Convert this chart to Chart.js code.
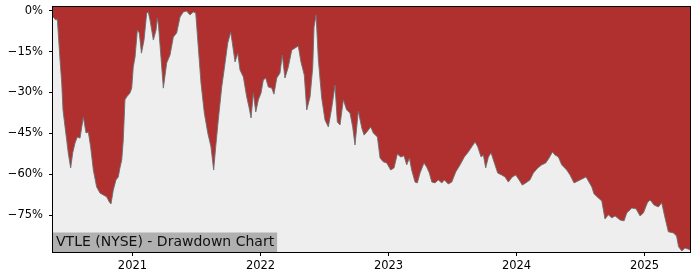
<!DOCTYPE html>
<html>
<head>
<meta charset="utf-8">
<script src="https://cdn.jsdelivr.net/npm/chart.js@4.4.1/dist/chart.umd.min.js"></script>
<style>
  html, body { margin: 0; padding: 0; background: #fff; }
  #wrap { width: 700px; height: 280px; position: relative; }
</style>
</head>
<body>
<div id="wrap"><canvas id="dd-chart"></canvas></div>
<script>
// time in decimal years, drawdown in percent
var years = [2020.379, 2020.402, 2020.413, 2020.420, 2020.434, 2020.447, 2020.457, 2020.473, 2020.486, 2020.498,
  2020.517, 2020.533, 2020.551, 2020.569, 2020.590, 2020.616, 2020.637, 2020.655, 2020.673, 2020.694,
  2020.720, 2020.746, 2020.772, 2020.798, 2020.819, 2020.832, 2020.850, 2020.871, 2020.889, 2020.902,
  2020.916, 2020.928, 2020.941, 2020.955, 2020.980, 2020.994, 2021.006, 2021.020, 2021.038, 2021.053,
  2021.070, 2021.090, 2021.111, 2021.123, 2021.137, 2021.163, 2021.184, 2021.194, 2021.203, 2021.215,
  2021.241, 2021.267, 2021.293, 2021.319, 2021.345, 2021.371, 2021.397, 2021.423, 2021.449, 2021.475,
  2021.494, 2021.514, 2021.535, 2021.561, 2021.588, 2021.613, 2021.634, 2021.650, 2021.670, 2021.697,
  2021.723, 2021.744, 2021.767, 2021.780, 2021.801, 2021.822, 2021.840, 2021.866, 2021.892, 2021.910,
  2021.926, 2021.944, 2021.963, 2021.983, 2022.004, 2022.022, 2022.041, 2022.061, 2022.088, 2022.105,
  2022.127, 2022.152, 2022.170, 2022.191, 2022.217, 2022.244, 2022.270, 2022.295, 2022.316, 2022.342,
  2022.361, 2022.387, 2022.408, 2022.418, 2022.434, 2022.452, 2022.478, 2022.504, 2022.530, 2022.556,
  2022.582, 2022.600, 2022.621, 2022.647, 2022.673, 2022.699, 2022.720, 2022.738, 2022.764, 2022.791,
  2022.809, 2022.830, 2022.861, 2022.881, 2022.913, 2022.934, 2022.959, 2022.986, 2023.017, 2023.043,
  2023.069, 2023.095, 2023.121, 2023.142, 2023.163, 2023.181, 2023.207, 2023.225, 2023.246, 2023.277,
  2023.298, 2023.319, 2023.338, 2023.363, 2023.389, 2023.416, 2023.436, 2023.467, 2023.494, 2023.525,
  2023.559, 2023.592, 2023.623, 2023.650, 2023.676, 2023.697, 2023.723, 2023.741, 2023.759, 2023.780,
  2023.801, 2023.827, 2023.853, 2023.884, 2023.910, 2023.936, 2023.967, 2023.994, 2024.020, 2024.045,
  2024.072, 2024.105, 2024.131, 2024.166, 2024.197, 2024.228, 2024.254, 2024.280, 2024.301, 2024.327,
  2024.353, 2024.392, 2024.418, 2024.449, 2024.496, 2024.543, 2024.588, 2024.605, 2024.639, 2024.666,
  2024.691, 2024.717, 2024.744, 2024.770, 2024.809, 2024.840, 2024.861, 2024.900, 2024.934, 2024.965,
  2024.991, 2025.022, 2025.043, 2025.074, 2025.108, 2025.134, 2025.160, 2025.186, 2025.225, 2025.250,
  2025.266, 2025.291, 2025.316, 2025.355];

var drawdown = [-2.3, -3.5, -3.2, -8.2, -18.1, -26.5, -36.4, -42.6, -47.4, -52.1,
  -57.6, -52.1, -48.5, -46.3, -46.7, -39.0, -44.8, -44.5, -49.9, -58.4,
  -64.6, -66.8, -67.5, -68.2, -70.1, -70.8, -65.7, -62.0, -60.9, -57.6,
  -54.7, -47.4, -32.7, -31.6, -30.2, -28.4, -20.7, -17.0, -7.1, -8.2,
  -15.6, -10.8, -0.9, -0.5, -3.5, -10.8, -7.1, -2.7, -5.3, -12.6,
  -28.4, -19.2, -16.3, -9.7, -8.2, -2.4, -0.5, -0.2, -1.6, -0.5,
  -0.9, -13.4, -26.5, -37.5, -44.8, -49.9, -58.4, -49.9, -40.1, -28.0,
  -19.2, -11.9, -7.9, -11.9, -18.8, -15.6, -21.8, -24.3, -31.6, -35.3,
  -39.3, -30.2, -37.1, -32.7, -30.2, -25.4, -24.7, -28.0, -28.4, -30.6,
  -24.7, -22.9, -16.3, -24.7, -20.7, -14.5, -13.7, -13.0, -18.8, -23.6,
  -36.4, -31.6, -20.7, -6.0, -1.6, -18.1, -32.0, -40.1, -42.6, -35.7,
  -27.3, -40.8, -41.9, -32.7, -36.4, -37.5, -42.6, -49.2, -36.8, -43.0,
  -45.6, -44.5, -42.6, -44.8, -46.3, -54.0, -55.4, -55.8, -58.4, -57.6,
  -52.5, -53.6, -53.2, -56.5, -54.0, -58.4, -62.8, -63.1, -59.5, -55.8,
  -57.3, -59.5, -62.8, -63.1, -62.0, -63.1, -62.0, -63.5, -62.8, -59.1,
  -56.5, -53.6, -51.8, -49.9, -48.1, -49.9, -53.6, -52.9, -57.6, -53.6,
  -52.1, -55.8, -59.5, -60.2, -60.9, -62.8, -60.9, -60.2, -62.0, -63.9,
  -63.1, -62.0, -59.5, -57.6, -56.5, -55.8, -54.0, -51.8, -52.9, -53.6,
  -56.5, -58.4, -60.2, -63.1, -62.0, -60.9, -64.6, -67.1, -68.6, -69.7,
  -76.3, -74.8, -75.9, -75.2, -76.7, -77.0, -74.1, -72.3, -72.6, -75.2,
  -74.1, -70.4, -69.3, -71.2, -71.9, -70.4, -75.9, -81.0, -81.4, -82.5,
  -86.5, -88.0, -86.9, -87.6];

var xTicks = [2021, 2022, 2023, 2024, 2025];
var yTicks = [0, -15, -30, -45, -60, -75];
var titleText = "VTLE (NYSE) - Drawdown Chart";

var FONT = "'DejaVu Sans', sans-serif";

// plot background, frame and the title box in the lower left corner
var decor = {
  id: "decor",
  beforeDatasetsDraw: function (chart) {
    var a = chart.chartArea, c = chart.ctx;
    c.save();
    c.fillStyle = "#eeeeee";
    c.fillRect(a.left, a.top, a.right - a.left, a.bottom - a.top);
    c.restore();
  },
  afterDatasetsDraw: function (chart) {
    var a = chart.chartArea, c = chart.ctx;
    c.save();
    c.font = "14px " + FONT;
    var w = c.measureText(titleText).width;
    c.fillStyle = "#b0b0b0";
    c.fillRect(a.left, a.bottom - 19.5, w + 6, 19.5);
    c.fillStyle = "#111";
    c.textBaseline = "middle";
    c.fillText(titleText, a.left + 3, a.bottom - 9.5);
    c.strokeStyle = "#000";
    c.lineWidth = 1;
    c.strokeRect(a.left - 0.5, a.top - 0.5, a.right - a.left + 1, a.bottom - a.top + 1);
    c.restore();
  }
};

// no automatic label padding, the plot box is fixed
function noPad(s) {
  s.paddingTop = 0;
  s.paddingBottom = 0;
  s.paddingLeft = 0;
  s.paddingRight = 0;
}

var ctx = document.getElementById("dd-chart");

var chart = new Chart(ctx, {
  type: "line",
  data: {
    datasets: [{
      data: years.map(function (t, i) { return { x: t, y: drawdown[i] }; }),
      borderColor: "rgba(110,110,110,0.9)",
      borderWidth: 1,
      backgroundColor: "#b03030",
      fill: "end",
      pointRadius: 0,
      tension: 0
    }]
  },
  options: {
    responsive: true,
    maintainAspectRatio: false,
    animation: false,
    layout: { padding: { top: 7, right: 10, left: 0, bottom: 0 } },
    plugins: {
      legend: { display: false },
      tooltip: { enabled: false }
    },
    scales: {
      x: {
        type: "linear",
        min: 2020.379,
        max: 2025.355,
        afterBuildTicks: function (s) { s.ticks = xTicks.map(function (v) { return { value: v }; }); },
        afterFit: function (s) { s.height = 28; noPad(s); },
        border: { display: false },
        grid: { drawOnChartArea: false, drawTicks: true, tickLength: 4, color: "#000" },
        ticks: {
          color: "#000",
          font: { family: FONT, size: 11.5 },
          padding: 3,
          maxRotation: 0,
          callback: function (v) { return String(v); }
        }
      },
      y: {
        min: -88.4,
        max: 1.3,
        afterBuildTicks: function (s) { s.ticks = yTicks.map(function (v) { return { value: v }; }); },
        afterFit: function (s) { s.width = 53; noPad(s); },
        border: { display: false },
        grid: { drawOnChartArea: false, drawTicks: true, tickLength: 4, color: "#000" },
        ticks: {
          color: "#000",
          font: { family: FONT, size: 11.5 },
          padding: 6,
          callback: function (v) { return (v < 0 ? "\u2212" : "") + Math.abs(v) + "%"; }
        }
      }
    }
  },
  plugins: [decor]
});
</script>
</body>
</html>
